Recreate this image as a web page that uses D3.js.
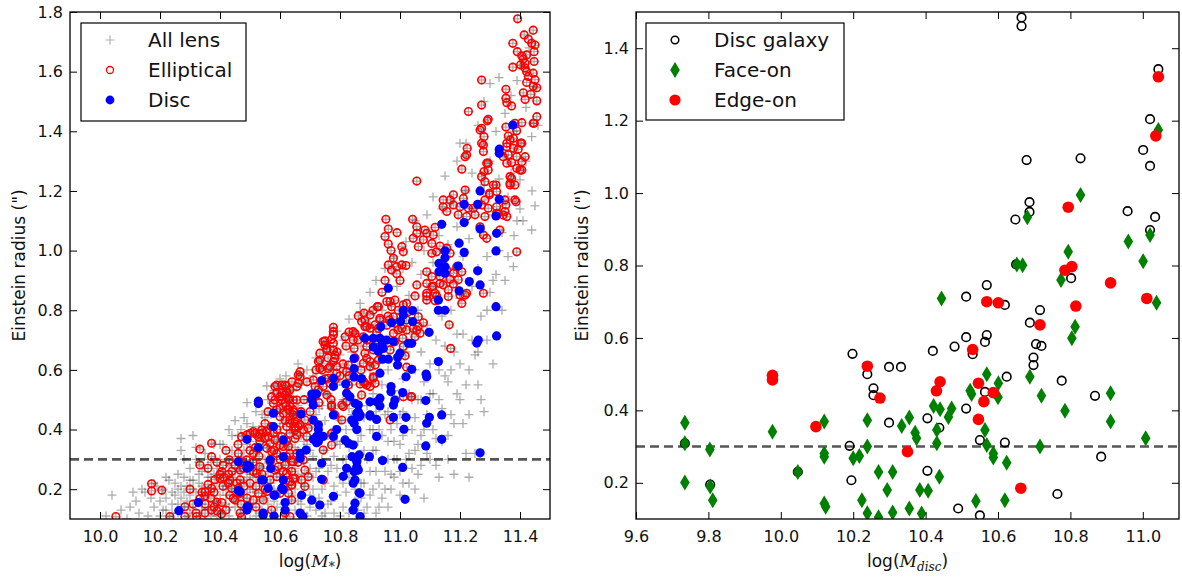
<!DOCTYPE html>
<html lang="en">
<head>
<meta charset="UTF-8">
<title>Einstein radius vs mass</title>
<style>
  html, body { margin: 0; padding: 0; background: #fff; }
  svg { display: block; font-family: "DejaVu Sans", sans-serif; }
  .tick text { font-size: 16px; fill: #111; font-family: "DejaVu Sans", sans-serif; }
  .tick line { stroke: #000; stroke-width: 1; }
</style>
</head>
<body>
<svg id="svg" width="1182" height="579"></svg>
<script src="https://d3js.org/d3.v7.min.js"></script>
<script>
// ---------- left panel: log(M*) vs Einstein radius ----------
// lenses that are neither elliptical nor disc (grey crosses only)
const otherLens = [
  [10.02,0.11],[10.04,0.18],[10.07,0.13],[10.09,0.10],
  [10.12,0.16],[10.13,0.12],[10.15,0.19],[10.16,0.11],[10.18,0.14],[10.19,0.21],[10.14,0.2],
  [10.21,0.13],[10.21,0.2],[10.22,0.17],[10.23,0.23],[10.23,0.11],[10.24,0.19],[10.24,0.15],[10.25,0.22],
  [10.26,0.12],[10.26,0.2],[10.27,0.17],[10.27,0.37],[10.27,0.33],[10.28,0.24],[10.28,0.14],[10.29,0.21],[10.29,0.11],[10.3,0.18],[10.3,0.27],
  [10.31,0.38],[10.31,0.23],[10.31,0.13],[10.32,0.3],[10.32,0.19],[10.33,0.25],[10.33,0.11],[10.34,0.21],[10.34,0.15],[10.35,0.27],[10.35,0.32],[10.35,0.1],
  [10.36,0.24],[10.36,0.13],[10.37,0.2],[10.37,0.29],[10.38,0.16],[10.38,0.35],[10.38,0.25],[10.39,0.11],[10.39,0.22],[10.4,0.3],[10.4,0.18],[10.4,0.13],
  [10.41,0.26],[10.41,0.35],[10.42,0.21],[10.42,0.15],[10.43,0.4],[10.43,0.28],[10.43,0.11],[10.44,0.24],[10.44,0.33],[10.45,0.18],[10.45,0.14],[10.45,0.43],
  [10.46,0.26],[10.46,0.38],[10.47,0.22],[10.47,0.12],[10.47,0.31],[10.48,0.17],[10.48,0.44],[10.49,0.49],[10.49,0.24],[10.49,0.35],[10.5,0.1],[10.5,0.2],[10.5,0.29],
  [10.51,0.41],[10.51,0.14],[10.51,0.25],[10.52,0.33],[10.52,0.46],[10.52,0.19],[10.53,0.28],[10.53,0.12],[10.53,0.4],[10.54,0.36],[10.54,0.22],[10.55,0.17],[10.55,0.44],[10.55,0.3],[10.556,0.546],
  [10.56,0.26],[10.56,0.5],[10.56,0.34],[10.57,0.12],[10.57,0.4],[10.57,0.22],[10.58,0.3],[10.58,0.53],[10.58,0.16],[10.59,0.36],[10.59,0.46],[10.59,0.26],[10.6,0.19],[10.6,0.57],[10.6,0.41],
  [10.61,0.28],[10.61,0.5],[10.61,0.11],[10.62,0.36],[10.62,0.22],[10.62,0.58],[10.63,0.45],[10.63,0.16],[10.63,0.3],[10.64,0.39],[10.64,0.26],[10.64,0.53],[10.65,0.2],[10.65,0.34],[10.65,0.13],
  [10.66,0.62],[10.66,0.48],[10.66,0.25],[10.67,0.38],[10.67,0.15],[10.67,0.55],[10.68,0.29],[10.68,0.45],[10.68,0.21],[10.69,0.6],[10.69,0.35],[10.69,0.11],[10.7,0.27],[10.7,0.5],[10.7,0.42],[10.7,0.18],
  [10.71,0.58],[10.71,0.31],[10.71,0.24],[10.72,0.64],[10.72,0.45],[10.72,0.13],[10.73,0.38],[10.73,0.27],[10.73,0.55],[10.74,0.2],[10.74,0.48],[10.74,0.62],[10.75,0.33],[10.75,0.12],[10.75,0.43],
  [10.76,0.69],[10.76,0.52],[10.76,0.26],[10.77,0.39],[10.77,0.16],[10.77,0.6],[10.78,0.31],[10.78,0.47],[10.78,0.21],[10.79,0.73],[10.79,0.55],[10.79,0.36],[10.8,0.24],[10.8,0.65],[10.8,0.43],[10.8,0.11],
  [10.81,0.5],[10.81,0.3],[10.81,0.7],[10.82,0.4],[10.82,0.19],[10.82,0.6],[10.83,0.34],[10.83,0.47],[10.83,0.77],[10.84,0.26],[10.84,0.55],[10.84,0.66],[10.85,0.4],[10.85,0.16],[10.85,0.72],
  [10.86,0.5],[10.86,0.61],[10.86,0.36],[10.867,0.823],[10.867,0.795],[10.87,0.22],[10.87,0.68],[10.88,0.44],[10.88,0.55],[10.88,0.12],[10.89,0.3],[10.89,0.76],[10.9,0.6],[10.9,0.4],[10.9,0.86],[10.9,0.18],
  [10.91,0.52],[10.91,0.33],[10.91,0.74],[10.92,0.46],[10.92,0.26],[10.92,0.9],[10.93,0.64],[10.93,0.4],[10.93,0.14],[10.94,0.55],[10.94,0.8],[10.94,0.3],[10.95,0.7],[10.95,0.2],[10.95,0.94],
  [10.96,0.46],[10.96,0.6],[10.96,0.36],[10.97,0.82],[10.97,0.25],[10.97,0.68],[10.98,0.53],[10.98,0.98],[10.98,0.3],[10.99,0.62],[10.99,0.42],[10.99,0.88],[11.0,0.18],[11.0,0.74],[11.0,0.35],
  [11.01,0.57],[11.01,0.94],[11.01,0.46],[11.02,0.66],[11.02,0.3],[11.02,1.03],[11.03,0.52],[11.03,0.85],[11.03,0.22],[11.04,0.72],[11.04,0.4],[11.04,0.96],[11.05,0.6],[11.05,0.33],[11.05,1.1],
  [11.06,0.8],[11.06,0.5],[11.06,0.25],[11.07,0.92],[11.07,0.66],[11.07,0.38],[11.08,1.0],[11.08,0.56],[11.08,0.17],[11.09,0.75],[11.09,0.45],[11.09,1.12],[11.1,0.86],[11.1,0.3],[11.1,0.62],
  [11.11,0.96],[11.11,0.52],[11.11,1.18],[11.12,0.7],[11.12,0.37],[11.12,0.86],[11.13,1.05],[11.13,0.6],[11.13,0.24],[11.14,0.78],[11.14,1.14],[11.14,0.47],[11.15,0.9],[11.15,0.68],[11.15,1.25],
  [11.16,0.56],[11.16,1.02],[11.16,0.38],[11.17,0.8],[11.17,1.16],[11.17,0.45],[11.18,0.94],[11.18,0.25],[11.18,0.66],[11.19,1.08],[11.19,0.52],[11.19,1.3],[11.2,0.84],[11.2,0.5],[11.2,1.36],
  [11.21,0.98],[11.21,0.42],[11.21,0.72],[11.22,1.2],[11.22,0.32],[11.22,1.36],[11.23,0.6],[11.23,1.04],[11.23,0.24],[11.24,0.88],[11.24,1.26],[11.25,0.65],[11.25,1.14],[11.25,0.32],
  [11.26,0.94],[11.26,1.42],[11.26,0.55],[11.27,1.06],[11.27,0.78],[11.28,1.22],[11.28,0.46],[11.28,1.5],[11.29,0.98],[11.29,0.7],[11.3,1.3],[11.3,0.86],[11.3,1.56],
  [11.31,1.12],[11.31,0.62],[11.32,1.4],[11.32,0.92],[11.33,1.24],[11.33,1.58],[11.34,1.06],[11.34,0.8],[11.35,1.32],[11.35,1.46],
  [11.36,1.18],[11.36,0.98],[11.37,1.52],[11.37,1.26],[11.378,0.946],[11.38,1.4],[11.39,1.57],[11.39,1.1],[11.4,1.237],[11.4,1.14],[11.4,1.62],
  [11.42,1.3],[11.42,1.48],[11.43,1.68],[11.439,1.069],[11.439,1.382],[11.44,1.2],[11.45,1.55],[11.45,1.15],[11.46,1.42],
  [10.1,0.14],[10.11,0.19],[10.17,0.17],[10.18,0.22],[10.2,0.16],[10.2,0.11],[10.22,0.13],[10.22,0.24],[10.24,0.12],[10.25,0.18],
  [10.26,0.15],[10.26,0.25],[10.27,0.21],[10.28,0.19],[10.28,0.3],[10.29,0.16],[10.3,0.12],[10.3,0.23],[10.31,0.2],[10.32,0.16],
  [10.32,0.34],[10.33,0.22],[10.33,0.29],[10.34,0.13],[10.34,0.26],[10.35,0.2],[10.36,0.18],[10.36,0.3],[10.37,0.11],[10.37,0.24],
  [10.38,0.2],[10.39,0.27],[10.39,0.16],[10.4,0.24],[10.4,0.35],[10.41,0.2],[10.41,0.12],[10.42,0.29],[10.42,0.18],[10.43,0.23],
  [10.43,0.14],[10.44,0.2],[10.44,0.38],[10.45,0.26],[10.45,0.31],[10.46,0.16],[10.46,0.21],[10.47,0.27],[10.47,0.4],[10.48,0.13],
  [10.48,0.23],[10.48,0.33],[10.49,0.19],[10.49,0.42],[10.5,0.15],[10.5,0.25],[10.5,0.36],[10.51,0.2],[10.51,0.3],[10.52,0.11],
  [10.52,0.24],[10.52,0.38],[10.53,0.16],[10.53,0.33],[10.54,0.27],[10.54,0.13],[10.54,0.45],[10.55,0.21],[10.55,0.36],[10.56,0.15],
  [10.56,0.3],[10.57,0.26],[10.57,0.45],[10.58,0.11],[10.58,0.2],[10.58,0.38],[10.59,0.31],[10.59,0.14],[10.6,0.24],[10.6,0.35],
  [10.6,0.5],[10.61,0.15],[10.61,0.42],[10.62,0.3],[10.62,0.13],[10.63,0.24],[10.63,0.35],[10.63,0.52],[10.64,0.18],[10.64,0.32],
  [10.65,0.27],[10.65,0.44],[10.66,0.16],[10.66,0.33],[10.67,0.22],[10.67,0.45],[10.68,0.12],[10.68,0.36],[10.69,0.25],[10.69,0.5],
  [10.7,0.14],[10.7,0.33],[10.71,0.2],[10.71,0.42],[10.72,0.26],[10.72,0.36],[10.73,0.17],[10.73,0.47],[10.74,0.3],[10.74,0.11],
  [10.75,0.22],[10.75,0.52],[10.76,0.15],[10.76,0.38],[10.77,0.28],[10.77,0.47],[10.78,0.12],[10.78,0.4],[10.79,0.18],[10.79,0.27],
  [10.8,0.35],[10.8,0.56],[10.81,0.14],[10.81,0.22],[10.82,0.3],[10.82,0.5],[10.83,0.12],[10.83,0.24],[10.84,0.35],[10.84,0.45],
  [10.85,0.2],[10.85,0.3],[10.86,0.13],[10.86,0.26],[10.87,0.17],[10.87,0.38],[10.88,0.22],[10.88,0.33],[10.89,0.14],[10.89,0.48],
  [10.9,0.26],[10.9,0.7],[10.91,0.2],[10.91,0.4],[10.92,0.12],[10.92,0.33],[10.93,0.22],[10.93,0.5],[10.94,0.17],[10.94,0.38],
  [10.95,0.26],[10.95,0.45],[10.96,0.3],[10.96,0.14],[10.97,0.4],[10.97,0.2],[10.98,0.36],[10.98,0.24],[10.99,0.3],[10.99,0.5],
  [11.0,0.26],[11.0,0.45],[11.01,0.22],[11.01,0.38],[11.02,0.4],[11.03,0.32],[11.04,0.27],[11.04,0.5],[11.05,0.2],[11.05,0.44],
  [11.06,0.35],[11.07,0.28],[11.07,0.5],[11.08,0.4],[11.09,0.32],[11.1,0.52],[11.11,0.4],[11.12,0.28],[11.13,0.5],[11.14,0.36],
  [11.15,0.58],[11.16,0.3],[11.17,0.6],[11.18,0.42],[11.19,0.72],[11.2,0.62],[11.22,0.55],[11.23,0.45],[11.24,0.7],[11.26,0.66],
  [11.27,0.5],[11.29,0.8],[11.31,0.9],[11.33,1.0],[11.35,0.9],[11.38,1.05],[11.41,1.1]
];

const elliptical = [
  [10.053,0.108],[10.172,0.218],[10.172,0.194],[10.206,0.196],[10.233,0.108],[10.283,0.108],[10.283,0.141],[10.322,0.108],
  [10.333,0.334],[10.333,0.281],[10.36,0.216],[10.372,0.203],[10.35,0.191],[10.35,0.176],[10.383,0.232],[10.413,0.24],[10.4,0.25],
  [10.333,0.168],[10.35,0.15],[10.372,0.13],[10.35,0.12],[10.372,0.354],[10.372,0.309],[10.389,0.156],[10.406,0.155],[10.39,0.127],
  [10.405,0.117],[10.4,0.236],[10.406,0.259],[10.431,0.298],[10.433,0.231],[10.428,0.22],[10.439,0.203],[10.433,0.18],[10.444,0.169],
  [10.429,0.25],[10.456,0.22],[10.467,0.231],[10.461,0.203],[10.467,0.186],[10.45,0.164],[10.461,0.32],[10.472,0.376],[10.489,0.382],
  [10.467,0.264],[10.478,0.27],[10.472,0.292],[10.489,0.298],[10.467,0.12],[10.472,0.106],
  [10.517,0.387],[10.528,0.376],[10.533,0.385],[10.544,0.389],[10.517,0.339],[10.533,0.36],[10.511,0.32],[10.511,0.259],[10.522,0.253],
  [10.533,0.275],[10.511,0.164],[10.528,0.186],[10.544,0.164],[10.556,0.192],[10.55,0.371],[10.567,0.354],[10.556,0.337],[10.578,0.387],
  [10.583,0.365],[10.572,0.326],[10.567,0.292],[10.589,0.32],[10.594,0.275],[10.589,0.242],[10.589,0.549],[10.606,0.549],[10.622,0.546],
  [10.6,0.51],[10.617,0.516],[10.583,0.499],[10.633,0.477],[10.644,0.46],[10.656,0.499],[10.633,0.421],[10.65,0.398],[10.656,0.443],
  [10.6,0.443],[10.617,0.43],[10.633,0.387],[10.633,0.32],[10.644,0.292],[10.639,0.259],[10.65,0.236],[10.633,0.225],[10.572,0.13],
  [10.6,0.186],[10.633,0.108],[10.617,0.12],[10.661,0.583],[10.661,0.555],
  [10.778,0.743],[10.778,0.728],[10.772,0.703],[10.778,0.689],[10.75,0.697],[10.756,0.672],[10.733,0.656],[10.733,0.633],[10.844,0.728],
  [10.844,0.7],[10.847,0.672],[10.924,0.812],[10.883,0.656],[10.889,0.639],[10.9,0.628],[10.917,0.616],[10.878,0.622],[10.828,0.616],
  [10.822,0.594],[10.783,0.639],[10.789,0.611],[10.789,0.589],[10.761,0.605],[10.761,0.572],[10.783,0.566],[10.711,0.566],[10.717,0.544],
  [10.728,0.533],[10.744,0.544],[10.756,0.516],[10.767,0.555],[10.878,0.561],[10.917,0.555],[10.911,0.577],[10.889,0.549],[10.828,0.549],
  [10.772,0.482],[10.811,0.477],[10.783,0.449],[10.806,0.432],[10.772,0.387],[10.772,0.348],[10.744,0.331],[10.744,0.231],[10.667,0.594],
  [10.667,0.577],[10.656,0.544],[10.633,0.533],[10.628,0.505],[10.644,0.499],[10.617,0.488],[10.606,0.499],[10.572,0.51],[10.578,0.488],
  [10.589,0.466],[10.611,0.455],[10.628,0.466],[10.644,0.449],[10.65,0.427],[10.667,0.416],[10.683,0.432],[10.661,0.41],[10.678,0.399],
  [10.694,0.404],[10.689,0.377],[10.656,0.382],[10.622,0.36],[10.628,0.343],[10.6,0.348],[10.656,0.32],[10.678,0.298],[10.683,0.264],
  [10.694,0.242],[10.672,0.231],[10.683,0.209],[10.639,0.214],[10.583,0.264],[10.567,0.231],[10.5,0.387],[10.511,0.393],[10.539,0.398],
  [10.556,0.393],[10.561,0.376],[10.583,0.544],[10.589,0.522],[10.617,0.549],[10.606,0.522],[10.622,0.527],
  [11.291,1.435],[11.353,1.414],[11.361,1.384],[11.356,1.36],[11.378,1.377],[11.389,1.402],[11.406,1.36],[11.394,1.34],[11.444,1.427],
  [11.406,1.429],[11.28,1.382],[11.278,1.354],[11.278,1.332],[11.289,1.293],[11.28,1.265],[11.294,1.27],[11.267,1.404],[11.224,1.343],
  [11.222,1.321],[11.344,1.315],[11.356,1.293],[11.372,1.295],[11.389,1.276],[11.406,1.27],[11.406,1.298],[11.417,1.315],[11.372,1.242],
  [11.367,1.22],[11.383,1.22],[11.32,1.22],[11.322,1.198],[11.206,1.273],[11.056,1.233],[11.272,1.248],[11.283,1.231],[11.298,1.187],
  [11.283,1.17],[11.272,1.153],[11.294,1.142],[11.322,1.147],[11.35,1.131],[11.356,1.114],[11.383,1.17],[11.35,1.17],[11.322,1.125],
  [11.178,1.187],[11.167,1.17],[11.178,1.153],[11.144,1.17],[11.144,1.147],[11.156,1.131],[11.217,1.203],[11.211,1.175],[11.2,1.147],
  [11.194,1.12],[11.222,1.114],[11.244,1.142],[11.25,1.12],[11.228,1.142],[11.283,1.114],[11.267,1.08],[11.278,1.052],[11.289,1.041],
  [10.953,1.105],[10.961,1.072],[10.95,1.047],[10.961,1.022],[11.042,1.105],[11.056,1.08],[11.044,1.041],[11.056,1.058],[11.061,1.013],
  [11.083,1.069],[11.089,1.058],[11.078,1.036],[11.117,1.078],[11.111,1.052],[11.106,1.024],[11.122,0.996],[11.106,0.991],[11.133,1.015],
  [11.156,1.008],[11.167,0.991],[11.006,1.013],[11.011,0.996],[10.978,0.974],[11.006,0.952],[10.989,0.946],[10.972,0.935],[10.961,0.952],
  [10.989,0.922],[11.089,0.929],[11.106,0.913],[11.133,0.913],[11.156,0.935],[11.178,0.924],[11.189,0.946],[11.206,0.929],[11.194,0.902],
  [11.167,0.904],[11.056,0.885],[11.089,0.89],[11.106,0.879],[11.117,0.857],[11.089,0.857],[11.05,0.848],[11.144,0.885],[11.161,0.868],
  [11.161,0.846],[11.2,0.851],[11.206,0.823],[11.222,0.857],[11.278,0.857],[11.389,0.996],[10.956,0.829],[10.972,0.812],[10.983,0.834],
  [10.994,0.8],[11.011,0.818],[10.978,0.778],[10.983,0.756],[11.006,0.739],[11.022,0.767],[11.044,0.739],[11.061,0.745],[11.067,0.723],
  [11.05,0.711],[11.061,0.778],[10.933,0.773],[10.917,0.751],[10.889,0.745],[10.878,0.711],[10.889,0.678],[10.911,0.667],[10.928,0.633],
  [10.9,0.611],[10.978,0.723],[10.983,0.695],[11.009,0.706],[11.011,0.678],[11.164,0.751],[11.169,0.672],[10.911,0.572],[10.9,0.544],
  [11.392,1.777],[11.414,1.723],[11.428,1.709],[11.444,1.739],[11.439,1.695],[11.45,1.689],[11.447,1.667],[11.422,1.656],[11.411,1.642],
  [11.402,1.623],[11.447,1.634],[11.376,1.695],[11.391,1.667],[11.406,1.653],[11.417,1.628],[11.417,1.612],[11.422,1.6],[11.428,1.584],
  [11.444,1.595],[11.45,1.573],[11.422,1.564],[11.444,1.551],[11.456,1.546],[11.411,1.529],[11.417,1.507],[11.436,1.524],[11.456,1.502],
  [11.376,1.615],[11.353,1.541],[11.353,1.511],[11.356,1.496],[11.372,1.485],[11.383,1.427],[11.456,1.449],[11.447,1.427],[11.272,1.572],
  [11.228,1.466],[11.272,1.488],[11.294,1.44],[11.272,1.41],[11.272,1.36],[11.217,1.315],[11.294,1.293],[11.356,1.348],[11.367,1.371],
  [11.378,1.343],[11.389,1.315],[11.402,1.36],[11.361,1.321],[11.4,1.27],[11.367,1.248],[11.367,1.226],[11.387,1.164],[11.311,1.22],
  [11.328,1.125],[11.333,1.069],[11.344,1.119],[11.353,1.153],[11.298,1.192],
  [10.967,0.829],[11.111,0.881],[11.133,0.89],[11.178,0.888],[11.089,0.848],[11.089,0.834],[11.122,0.848],[11.117,0.832],[11.217,0.851],
  [11.022,0.823],[11.028,0.795],[10.928,0.812],[10.964,0.767],[10.994,0.734],[11.022,0.734],[11.056,0.734],[11.078,0.758],[10.928,0.739],
  [10.922,0.725],[10.967,0.667],[11.017,0.647],[11.022,0.609],[11.036,0.51],[10.967,0.432],[10.778,0.667],[10.783,0.65],[10.778,0.717],
  [10.744,0.695],[10.75,0.683],[10.756,0.667],[10.778,0.628],[10.767,0.611],[10.728,0.628],[10.733,0.605],[10.817,0.711],[10.83,0.727],
  [10.85,0.722],[10.933,0.767],[10.956,0.75],[10.9,0.784],[10.883,0.767],[10.861,0.781],[10.872,0.762],[10.883,0.745],[10.644,0.466],
  [10.633,0.432],[10.65,0.41],[10.622,0.41],[10.606,0.376],[10.611,0.343],[10.622,0.309],[10.639,0.292],[10.617,0.281],[10.622,0.253],
  [10.644,0.236],[10.639,0.214],[10.628,0.186],[10.611,0.208],[10.639,0.164],[10.772,0.477],[10.806,0.482],[10.822,0.493],[10.867,0.553],
  [10.883,0.555],[10.872,0.516],[11.011,0.51],[11.039,0.51],
  [10.3,0.2],[10.31,0.15],[10.32,0.12],[10.34,0.19],[10.36,0.27],[10.37,0.17],[10.38,0.19],[10.38,0.14],[10.39,0.29],[10.41,0.21],
  [10.41,0.28],[10.42,0.33],[10.42,0.13],[10.44,0.26],[10.45,0.28],[10.46,0.35],[10.47,0.15],[10.48,0.21],[10.49,0.17],[10.5,0.22],
  [10.5,0.33],[10.51,0.29],[10.52,0.14],[10.52,0.21],[10.53,0.31],[10.54,0.25],[10.55,0.2],[10.55,0.42],[10.56,0.46],[10.57,0.41],
  [10.58,0.33],[10.59,0.4],[10.6,0.3],[10.6,0.47],[10.61,0.26],[10.62,0.48],[10.63,0.5],[10.64,0.56],[10.65,0.37],[10.66,0.29],
  [10.67,0.46],[10.68,0.5],[10.69,0.56],[10.7,0.46],[10.71,0.5],[10.72,0.6],[10.73,0.49],[10.74,0.6],[10.75,0.57],[10.76,0.64],
  [10.77,0.5],[10.79,0.66],[10.8,0.58],[10.81,0.62],[10.82,0.68],[10.83,0.58],[10.85,0.64],[10.86,0.7],[10.87,0.6],[10.88,0.79],
  [10.89,0.7],[10.9,0.74],[10.91,0.8],[10.92,0.7],[10.94,0.86],[10.95,0.9],[10.96,0.78],[10.97,1.0],[10.99,1.06],[11.0,0.9],[11.02,0.95]
];

const disc = [
  [10.263,0.128],[10.328,0.155],[10.461,0.292],[10.461,0.195],[10.49,0.281],[10.49,0.27],[10.49,0.367],[10.49,0.141],[10.49,0.13],
  [10.528,0.495],[10.528,0.487],[10.528,0.339],[10.544,0.231],[10.544,0.12],[10.561,0.203],[10.569,0.27],[10.578,0.455],[10.578,0.41],
  [10.58,0.18],[10.58,0.11],[10.611,0.365],[10.611,0.231],[10.611,0.198],[10.611,0.309],[10.617,0.155],[10.617,0.13],
  [10.67,0.452],[10.706,0.519],[10.722,0.519],[10.706,0.501],[10.711,0.482],[10.739,0.564],[10.711,0.432],[10.728,0.416],[10.728,0.40],
  [10.722,0.377],[10.744,0.377],[10.728,0.36],[10.778,0.572],[10.778,0.545],[10.778,0.449],[10.789,0.40],[10.778,0.377],[10.819,0.553],
  [10.847,0.638],[10.847,0.604],[10.847,0.576],[10.872,0.571],[10.85,0.488],[10.856,0.455],[10.867,0.449],[10.847,0.421],[10.856,0.40],
  [10.9,0.493],[10.9,0.449],[10.922,0.377],[10.911,0.677],[10.928,0.662],[10.817,0.365],[10.828,0.354],[10.844,0.348],[10.84,0.309],
  [10.856,0.298],[10.822,0.27],[10.856,0.275],[10.861,0.264],[10.85,0.231],[10.844,0.22],[10.811,0.243],[10.867,0.186],[10.85,0.153],
  [10.844,0.13],[10.778,0.176],[10.739,0.233],[10.739,0.287],[10.667,0.32],[10.667,0.304],[10.687,0.331],[10.672,0.18],[10.706,0.163],
  [10.733,0.147],[10.667,0.12],[10.567,0.298],[10.606,0.203],[10.539,0.231],[10.583,0.18],[10.494,0.141],[10.544,0.113],[10.467,0.191],
  [10.5,0.275],[10.676,0.108],[10.867,0.108],[10.711,0.367],[10.722,0.356],[10.822,0.522],[10.833,0.51],[10.861,0.482],[10.861,0.46],
  [10.864,0.443],[10.839,0.432],[10.9,0.445],[10.922,0.434],[10.883,0.706],[10.933,0.589],[10.972,0.758],
  [11.376,1.421],[11.331,1.34],[11.331,1.326],[11.267,1.2],[11.331,1.172],[11.214,1.155],[11.259,1.155],[11.32,1.116],[11.139,1.088],
  [11.214,1.094],[11.267,1.073],[11.322,1.058],[11.32,0.999],[11.197,1.025],[11.15,0.999],[11.214,0.994],[11.15,0.976],[11.13,0.957],
  [11.15,0.946],[11.13,0.929],[11.15,0.924],[11.194,0.948],[11.259,0.932],[11.231,0.896],[11.267,0.885],[11.197,0.865],[10.961,0.874],
  [11.128,0.834],[11.128,0.8],[11.15,0.8],[11.32,0.812],[11.322,0.714],[11.261,0.7],[11.256,0.69],[11.097,0.726],[11.011,0.8],
  [11.011,0.784],[11.042,0.799],[11.002,0.762],[11.042,0.762],[10.936,0.745],[10.911,0.706],[10.933,0.706],[10.956,0.7],[10.978,0.695],
  [11.028,0.689],[11.039,0.689],[10.939,0.683],[10.944,0.672],[11.0,0.656],[10.942,0.636],[10.961,0.636],[10.992,0.642],[10.992,0.616],
  [11.128,0.628],[11.039,0.602],[11.02,0.577],[11.087,0.586],[11.089,0.577],[10.97,0.544],[10.97,0.527],[11.009,0.524],[10.933,0.505],
  [10.983,0.499],[10.978,0.482],[10.922,0.493],[10.933,0.479],[11.086,0.497],[11.139,0.449],[11.098,0.441],[11.089,0.421],[11.02,0.441],
  [10.978,0.441],[11.013,0.401],[11.139,0.367],[11.086,0.345],[11.267,0.322],[10.898,0.309],[10.942,0.296],[11.009,0.273],[11.017,0.166],
  [10.864,0.315],[10.856,0.292],[10.847,0.259],[10.864,0.188]
];

// ---------- right panel: log(M_disc) vs Einstein radius ----------
const discGalaxy = [
  [9.735,0.309],[9.805,0.195],[10.047,0.230],[10.198,0.556],[10.19,0.302],[10.195,0.207],[10.239,0.50],[10.256,0.461],[10.256,0.442],
  [10.299,0.52],[10.332,0.52],[10.299,0.366],[10.405,0.378],[10.438,0.352],[10.405,0.233],[10.42,0.564],[10.48,0.576],[10.512,0.602],
  [10.53,0.555],[10.512,0.714],[10.569,0.746],[10.569,0.608],[10.564,0.589],[10.619,0.691],[10.624,0.493],[10.564,0.451],[10.512,0.405],
  [10.55,0.318],[10.619,0.311],[10.49,0.129],[10.55,0.11],[10.665,1.485],[10.665,1.461],[10.679,1.091],[10.687,0.975],[10.687,0.948],
  [10.648,0.927],[10.65,0.803],[10.716,0.677],[10.688,0.642],[10.705,0.583],[10.72,0.578],[10.698,0.546],[10.698,0.525],[10.776,0.482],
  [10.764,0.169],[10.802,0.765],[10.828,1.096],[10.868,0.44],[10.885,0.272],[10.958,0.95],[11.001,1.119],[11.02,1.204],[11.02,1.075],
  [11.043,1.342],[11.034,0.934],[11.02,0.898]
];
const faceOn = [
  [9.735,0.366],[9.735,0.309],[9.735,0.201],[9.804,0.292],[9.805,0.19],[9.812,0.152],[9.977,0.341],[10.047,0.230],[10.12,0.369],
  [10.12,0.281],[10.12,0.272],[10.12,0.143],[10.124,0.134],[10.2,0.268],[10.217,0.274],[10.224,0.152],[10.239,0.373],[10.239,0.30],
  [10.239,0.116],[10.27,0.23],[10.27,0.105],[10.294,0.18],[10.309,0.23],[10.309,0.118],[10.334,0.357],[10.355,0.38],[10.355,0.129],
  [10.371,0.338],[10.375,0.323],[10.384,0.18],[10.407,0.178],[10.389,0.115],[10.422,0.412],[10.44,0.403],[10.431,0.346],[10.431,0.309],
  [10.438,0.217],[10.444,0.709],[10.472,0.405],[10.463,0.382],[10.523,0.454],[10.527,0.445],[10.539,0.15],[10.564,0.346],[10.569,0.50],
  [10.569,0.304],[10.587,0.281],[10.587,0.27],[10.601,0.475],[10.60,0.436],[10.619,0.152],[10.624,0.255],[10.652,0.803],[10.668,0.801],
  [10.681,0.933],[10.688,0.493],[10.716,0.30],[10.72,0.44],[10.774,0.76],[10.785,0.399],[10.794,0.838],[10.813,0.631],[10.804,0.599],
  [10.828,0.995],[10.911,0.447],[10.911,0.369],[10.96,0.866],[11.001,0.812],[11.008,0.323],[11.02,0.884],[11.038,0.697],[11.043,1.174]
];
const edgeOn = [
  [9.977,0.497],[9.977,0.484],[10.097,0.355],[10.239,0.522],[10.274,0.434],[10.35,0.286],[10.44,0.479],[10.43,0.454],[10.53,0.568],
  [10.546,0.475],[10.546,0.375],[10.561,0.424],[10.569,0.70],[10.601,0.697],[10.587,0.449],[10.663,0.185],[10.716,0.636],[10.785,0.787],
  [10.804,0.797],[10.794,0.961],[10.815,0.688],[10.911,0.752],[11.011,0.709],[11.036,1.158],[11.043,1.321]
];

// axis ticks
const leftXTicks = [10.0, 10.2, 10.4, 10.6, 10.8, 11.0, 11.2, 11.4];
const leftYTicks = [0.2, 0.4, 0.6, 0.8, 1.0, 1.2, 1.4, 1.6, 1.8];
const rightXTicks = [9.6, 9.8, 10.0, 10.2, 10.4, 10.6, 10.8, 11.0];
const rightYTicks = [0.2, 0.4, 0.6, 0.8, 1.0, 1.2, 1.4];
const radiusCut = 0.3;

const svg = d3.select('#svg');
const fmt = d3.format('.1f');
const crossPath = 'M-4.5,0H4.5M0,-4.5V4.5';
const diamondPath = 'M0,-8L4.8,0L0,8L-4.8,0Z';

function panel(opts) {
  const x = d3.scaleLinear().domain(opts.xDomain).range([opts.left, opts.right]);
  const y = d3.scaleLinear().domain(opts.yDomain).range([opts.bottom, opts.top]);
  const g = svg.append('g');

  const clipId = opts.id + '-clip';
  svg.append('clipPath').attr('id', clipId)
    .append('rect')
    .attr('x', opts.left).attr('y', opts.top)
    .attr('width', opts.right - opts.left).attr('height', opts.bottom - opts.top);

  const marks = g.append('g').attr('clip-path', `url(#${clipId})`);

  // dashed 0.3" line
  marks.append('line')
    .attr('x1', opts.left).attr('x2', opts.right)
    .attr('y1', y(radiusCut)).attr('y2', y(radiusCut))
    .attr('stroke', '#555').attr('stroke-width', 2.6)
    .attr('stroke-dasharray', '9,5');

  // ticks (inside, all four sides)
  const ax = (axis, tx, ty, labels) => {
    const a = g.append('g').attr('transform', `translate(${tx},${ty})`).call(axis);
    a.select('.domain').remove();
    if (!labels) a.selectAll('text').remove();
    return a;
  };
  ax(d3.axisBottom(x).tickValues(opts.xTicks).tickFormat(fmt).tickSizeInner(-7).tickSizeOuter(0).tickPadding(12), 0, opts.bottom, true);
  ax(d3.axisTop(x).tickValues(opts.xTicks).tickSizeInner(-7).tickSizeOuter(0), 0, opts.top, false);
  ax(d3.axisLeft(y).tickValues(opts.yTicks).tickFormat(fmt).tickSizeInner(-7).tickSizeOuter(0).tickPadding(7), opts.left, 0, true);
  ax(d3.axisRight(y).tickValues(opts.yTicks).tickSizeInner(-7).tickSizeOuter(0), opts.right, 0, false);

  // frame
  g.append('rect')
    .attr('x', opts.left).attr('y', opts.top)
    .attr('width', opts.right - opts.left).attr('height', opts.bottom - opts.top)
    .attr('fill', 'none').attr('stroke', '#000').attr('stroke-width', 1.3);

  // axis labels
  const xl = g.append('text')
    .attr('x', (opts.left + opts.right) / 2).attr('y', 567)
    .attr('text-anchor', 'middle').attr('font-size', 17).attr('fill', '#111');
  xl.append('tspan').text('log(');
  xl.append('tspan').attr('font-style', 'italic').attr('font-family', 'DejaVu Serif, serif').text('M');
  xl.append('tspan').attr('font-style', 'italic').attr('font-family', 'DejaVu Serif, serif')
    .attr('font-size', 12).attr('dy', 4).text(opts.sub);
  xl.append('tspan').attr('dy', -4).text(')');

  g.append('text')
    .attr('transform', `translate(${opts.yLabelX},${(opts.top + opts.bottom) / 2}) rotate(-90)`)
    .attr('text-anchor', 'middle').attr('font-size', 17).attr('fill', '#111')
    .text('Einstein radius (")');

  return { x, y, g, marks };
}

// ---------- left panel ----------
const L = panel({
  id: 'left', left: 70, right: 550, top: 12, bottom: 519,
  xDomain: [9.9, 11.5], yDomain: [0.1, 1.8],
  xTicks: leftXTicks, yTicks: leftYTicks, sub: '*', yLabelX: 25
});

const allLens = otherLens.concat(elliptical, disc);
L.marks.append('g').selectAll('path')
  .data(allLens).enter().append('path')
  .attr('d', crossPath)
  .attr('transform', d => `translate(${L.x(d[0])},${L.y(d[1])})`)
  .attr('stroke', '#000').attr('stroke-opacity', 0.33).attr('stroke-width', 1.3).attr('fill', 'none');

L.marks.append('g').selectAll('circle')
  .data(elliptical).enter().append('circle')
  .attr('cx', d => L.x(d[0])).attr('cy', d => L.y(d[1]))
  .attr('r', 3.8).attr('fill', 'none').attr('stroke', '#ff0000').attr('stroke-width', 1.6);

L.marks.append('g').selectAll('circle')
  .data(disc).enter().append('circle')
  .attr('cx', d => L.x(d[0])).attr('cy', d => L.y(d[1]))
  .attr('r', 4.6).attr('fill', '#0000ff');

// ---------- right panel ----------
const R = panel({
  id: 'right', left: 636, right: 1179, top: 12, bottom: 519,
  xDomain: [9.6, 11.1], yDomain: [0.1, 1.5],
  xTicks: rightXTicks, yTicks: rightYTicks, sub: 'disc', yLabelX: 588
});

R.marks.append('g').selectAll('circle')
  .data(discGalaxy).enter().append('circle')
  .attr('cx', d => R.x(d[0])).attr('cy', d => R.y(d[1]))
  .attr('r', 4.3).attr('fill', 'none').attr('stroke', '#000').attr('stroke-width', 1.6);

R.marks.append('g').selectAll('path')
  .data(faceOn).enter().append('path')
  .attr('d', diamondPath)
  .attr('transform', d => `translate(${R.x(d[0])},${R.y(d[1])})`)
  .attr('fill', '#008000');

R.marks.append('g').selectAll('circle')
  .data(edgeOn).enter().append('circle')
  .attr('cx', d => R.x(d[0])).attr('cy', d => R.y(d[1]))
  .attr('r', 5.8).attr('fill', '#ff0000');

// ---------- legends ----------
function legend(x0, y0, w, h, items, markerX, textX) {
  const lg = svg.append('g');
  lg.append('rect').attr('x', x0).attr('y', y0).attr('width', w).attr('height', h)
    .attr('fill', '#fff').attr('stroke', '#000').attr('stroke-width', 1.2);
  items.forEach((it, i) => {
    const cy = 40 + i * 30;
    it.draw(lg, markerX, cy);
    lg.append('text').attr('x', textX).attr('y', cy + 7)
      .attr('font-size', 20).attr('fill', '#111').text(it.label);
  });
}

legend(81, 23, 165, 98, [
  { label: 'All lens', draw: (s, x, y) => s.append('path').attr('d', crossPath)
      .attr('transform', `translate(${x},${y})`).attr('stroke', '#000').attr('stroke-opacity', 0.3).attr('stroke-width', 1.2) },
  { label: 'Elliptical', draw: (s, x, y) => s.append('circle').attr('cx', x).attr('cy', y).attr('r', 3.5)
      .attr('fill', 'none').attr('stroke', '#ff0000').attr('stroke-width', 1.3) },
  { label: 'Disc', draw: (s, x, y) => s.append('circle').attr('cx', x).attr('cy', y).attr('r', 4.4).attr('fill', '#0000ff') }
], 110, 148);

legend(646, 23, 198, 97, [
  { label: 'Disc galaxy', draw: (s, x, y) => s.append('circle').attr('cx', x).attr('cy', y).attr('r', 3.8)
      .attr('fill', 'none').attr('stroke', '#000').attr('stroke-width', 1.5) },
  { label: 'Face-on', draw: (s, x, y) => s.append('path').attr('d', diamondPath)
      .attr('transform', `translate(${x},${y})`).attr('fill', '#008000') },
  { label: 'Edge-on', draw: (s, x, y) => s.append('circle').attr('cx', x).attr('cy', y).attr('r', 5.6).attr('fill', '#ff0000') }
], 675, 714);
</script>
</body>
</html>
